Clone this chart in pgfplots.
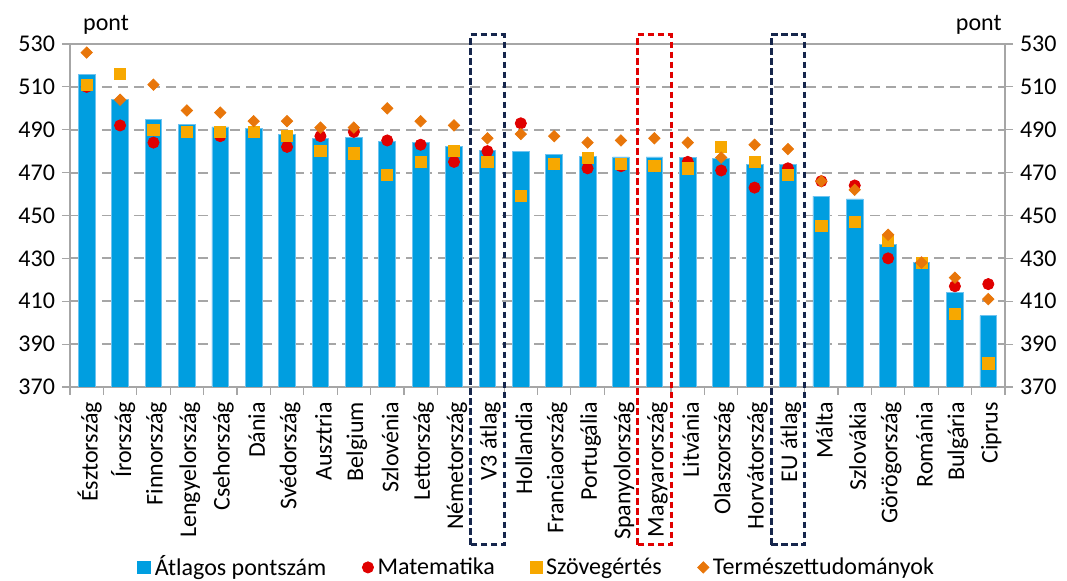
\documentclass[border=0pt]{standalone}
\usepackage{pgfplots}
\pgfplotsset{compat=1.18}
\usepackage{fontspec}
\setmainfont{Carlito}

\definecolor{barblue}{RGB}{0,158,224}
\definecolor{baredge}{RGB}{110,195,240}
\definecolor{mathred}{RGB}{224,0,0}
\definecolor{readyel}{RGB}{247,168,0}
\definecolor{sciorange}{RGB}{232,118,10}
\definecolor{navy}{RGB}{22,38,76}
\definecolor{gridgray}{RGB}{166,166,166}

% PISA 2022 results: average, mathematics, reading, science
\pgfplotstableread{
idx avg   mat rea sci
0   515.7 510 511 526
1   504.0 492 516 504
2   495.0 484 490 511
3   492.3 489 489 499
4   491.3 487 489 498
5   490.7 489 489 494
6   487.7 482 487 494
7   486.0 487 480 491
8   486.3 489 479 491
9   484.7 485 469 500
10  484.0 483 475 494
11  482.3 475 480 492
12  480.3 480 475 486
13  480.0 493 459 488
14  478.3 474 474 487
15  477.7 472 477 484
16  477.3 473 474 485
17  477.3 473 473 486
18  477.0 475 472 484
19  476.7 471 482 477
20  473.7 463 475 483
21  473.7 472 469 481
22  459.0 466 445 466
23  457.7 464 447 462
24  436.3 430 438 441
25  428.0 428 428 428
26  414.0 417 404 421
27  403.3 418 381 411
}\pisa

\newcommand{\lbl}{\fontsize{12}{14}\selectfont}

\begin{document}
\begin{tikzpicture}
\begin{axis}[
  at={(0,0)}, anchor=south west,
  scale only axis, width=467.5pt, height=171.5pt,
  xmin=-0.5, xmax=27.5, ymin=370, ymax=530,
  ytick={370,390,...,530},
  ytick pos=left,
  xtick={0,...,27},
  xtick pos=bottom,
  xticklabels={Észtország,Írország,Finnország,Lengyelország,Csehország,Dánia,Svédország,Ausztria,Belgium,Szlovénia,Lettország,Németország,V3 átlag,Hollandia,Franciaország,Portugália,Spanyolország,Magyarország,Litvánia,Olaszország,Horvátország,EU átlag,Málta,Szlovákia,Görögország,Románia,Bulgária,Ciprus},
  minor xtick={-0.5,0.5,...,27.5},
  major x tick style={draw=none},
  tick align=outside,
  major tick length=4pt, minor tick length=4pt,
  tick style={gridgray, line width=0.6pt},
  axis line style={gridgray, line width=0.6pt},
  ymajorgrids,
  grid style={gridgray, line width=0.9pt, dash pattern=on 5pt off 3pt},
  xticklabel style={rotate=90, anchor=east, font=\lbl, yshift=-1.5pt},
  yticklabel style={font=\lbl},
  /pgf/number format/assume math mode=true,
  legend style={at={(0.5,-0.526)}, anchor=center, draw=none, fill=none,
    font=\lbl, legend columns=4,
    /tikz/every even column/.append style={column sep=16pt}},
  legend image code/.code={\draw[mark repeat=2,mark phase=2,#1] plot coordinates {(0pt,0pt)(3.5pt,0pt)(7pt,0pt)};},
]
\addplot[ybar, bar width=8.35pt, bar shift=0pt, fill=barblue, draw=baredge, line width=0.4pt,
  legend image code/.code={\fill[barblue] (0pt,-3.2pt) rectangle (6.5pt,3.2pt);}]
  table[x=idx, y=avg] {\pisa};
\addlegendentry{Átlagos pontszám}
\addplot[only marks, mark=*, mark size=2.8pt, mathred, mark options={draw=mathred, fill=mathred}]
  table[x=idx, y=mat] {\pisa};
\addlegendentry{Matematika}
\addplot[only marks, mark=square*, mark size=2.8pt, readyel, mark options={draw=readyel, fill=readyel}]
  table[x=idx, y=rea] {\pisa};
\addlegendentry{Szövegértés}
\addplot[only marks, mark=square*, mark size=2.0pt, sciorange, mark options={draw=sciorange, fill=sciorange, rotate=45}]
  table[x=idx, y=sci] {\pisa};
\addlegendentry{Természettudományok}
\end{axis}

% right-hand scale, unit labels and highlight frames
\begin{axis}[
  at={(0,0)}, anchor=south west,
  scale only axis, width=467.5pt, height=171.5pt,
  xmin=-0.5, xmax=27.5, ymin=370, ymax=530,
  axis x line=none, axis y line*=right,
  ytick={370,390,...,530},
  tick align=outside, major tick length=4pt,
  tick style={gridgray, line width=0.6pt},
  axis line style={gridgray, line width=0.6pt},
  yticklabel style={font=\lbl},
  /pgf/number format/assume math mode=true,
  clip=false,
]
\node[font=\lbl] at (axis description cs:0.0385,1.057) {pont};
\node[font=\lbl] at (axis description cs:0.972,1.057) {pont};
\draw[navy, line width=1.5pt, dash pattern=on 3.3pt off 1.7pt]
  (axis cs:11.5,296.3) rectangle (axis cs:12.5,534.2);
\draw[mathred, line width=1.5pt, dash pattern=on 3.3pt off 1.7pt]
  (axis cs:16.5,296.3) rectangle (axis cs:17.5,534.2);
\draw[navy, line width=1.5pt, dash pattern=on 3.3pt off 1.7pt]
  (axis cs:20.5,296.3) rectangle (axis cs:21.5,534.2);
\end{axis}
\pgfresetboundingbox
\path[use as bounding box] (-35pt,-97pt) rectangle (498.5pt,193.5pt);
\end{tikzpicture}
\end{document}
